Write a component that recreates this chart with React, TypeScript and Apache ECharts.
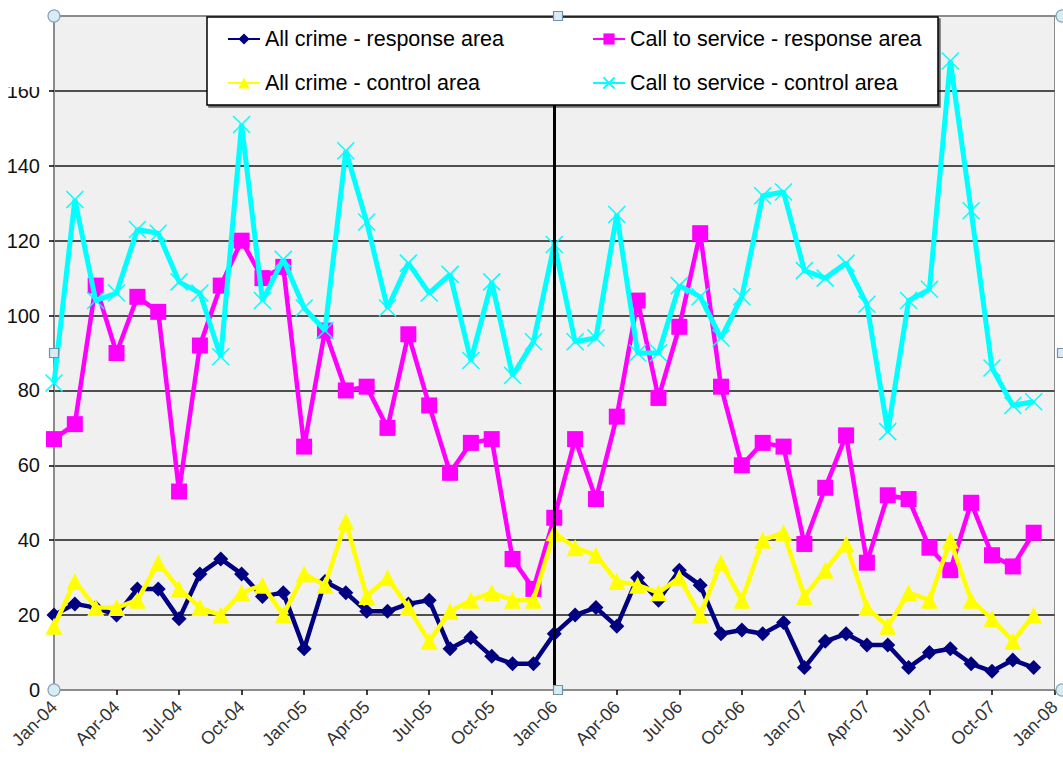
import React, { useEffect, useRef } from "react";
import * as echarts from "echarts";

const categories = [
  "Jan-04", "Feb-04", "Mar-04", "Apr-04", "May-04", "Jun-04", "Jul-04", "Aug-04", "Sep-04", "Oct-04", "Nov-04", "Dec-04",
  "Jan-05", "Feb-05", "Mar-05", "Apr-05", "May-05", "Jun-05", "Jul-05", "Aug-05", "Sep-05", "Oct-05", "Nov-05", "Dec-05",
  "Jan-06", "Feb-06", "Mar-06", "Apr-06", "May-06", "Jun-06", "Jul-06", "Aug-06", "Sep-06", "Oct-06", "Nov-06", "Dec-06",
  "Jan-07", "Feb-07", "Mar-07", "Apr-07", "May-07", "Jun-07", "Jul-07", "Aug-07", "Sep-07", "Oct-07", "Nov-07", "Dec-07",
  "Jan-08",
];

const allCrimeResponse = [
  20, 23, 22, 20, 27, 27, 19, 31, 35, 31, 25, 26,
  11, 29, 26, 21, 21, 23, 24, 11, 14, 9, 7, 7,
  15, 20, 22, 17, 30, 24, 32, 28, 15, 16, 15, 18,
  6, 13, 15, 12, 12, 6, 10, 11, 7, 5, 8, 6,
];

const callResponse = [
  67, 71, 108, 90, 105, 101, 53, 92, 108, 120, 110, 113,
  65, 96, 80, 81, 70, 95, 76, 58, 66, 67, 35, 27,
  46, 67, 51, 73, 104, 78, 97, 122, 81, 60, 66, 65,
  39, 54, 68, 34, 52, 51, 38, 32, 50, 36, 33, 42,
];

const allCrimeControl = [
  17, 29, 22, 22, 24, 34, 27, 22, 20, 26, 28, 20,
  31, 28, 45, 25, 30, 22, 13, 21, 24, 26, 24, 24,
  42, 38, 36, 29, 28, 26, 30, 20, 34, 24, 40, 42,
  25, 32, 39, 22, 17, 26, 24, 40, 24, 19, 13, 20,
];

const callControl = [
  82, 131, 104, 106, 123, 122, 109, 106, 89, 151, 104, 115,
  102, 96, 144, 125, 102, 114, 106, 111, 88, 109, 84, 93,
  119, 93, 94, 127, 90, 90, 108, 105, 94, 105, 132, 133,
  112, 110, 114, 103, 69, 104, 107, 168, 128, 86, 76, 77,
];

const seriesNames = [
  "All crime - response area",
  "Call to service - response area",
  "All crime - control area",
  "Call to service - control area",
];

const dividerMonth = "Jan-06";

const FONT = "'Liberation Sans', Arial, sans-serif";

export default function App() {
  const ref = useRef<HTMLDivElement>(null);

  useEffect(() => {
    if (!ref.current) return;
    const chart = echarts.init(ref.current, undefined, { renderer: "svg" });

    const gridLeft = 54;
    const gridTop = 16;
    const gridRight = 1062;
    const gridBottom = 690;
    const midX = 558;
    const midY = 353;

    const handleCircle = (x: number, y: number) => ({
      type: "circle",
      shape: { cx: x, cy: y, r: 6 },
      style: { fill: "#d8ecf3", stroke: "#8aa5b5", lineWidth: 1.2 },
      z: 30,
    });
    const handleSquare = (x: number, y: number) => ({
      type: "rect",
      shape: { x: x - 4.5, y: y - 4.5, width: 9, height: 9 },
      style: { fill: "#d8ecf3", stroke: "#6f93ab", lineWidth: 1.2 },
      z: 30,
    });

    const legendPos = [
      { left: 227, top: 28 },
      { left: 592, top: 28 },
      { left: 227, top: 72 },
      { left: 592, top: 72 },
    ];

    const option: any = {
      animation: false,
      backgroundColor: "#ffffff",
      grid: {
        left: gridLeft,
        top: gridTop,
        right: 1063 - gridRight,
        bottom: 764 - gridBottom,
        show: true,
        backgroundColor: "#f0f0f0",
        borderColor: "#8c8c8c",
        borderWidth: 1,
      },
      legend: seriesNames.map((n, i) => ({
        data: [n],
        left: legendPos[i].left,
        top: legendPos[i].top,
        padding: 0,
        itemWidth: 32,
        itemHeight: 14,
        itemGap: 6,
        z: 20,
        textStyle: { fontSize: 21.5, color: "#000", fontFamily: FONT },
      })),
      xAxis: {
        type: "category",
        data: categories,
        boundaryGap: false,
        axisLine: { lineStyle: { color: "#8c8c8c", width: 2 } },
        axisTick: {
          show: true,
          interval: 2,
          length: 5,
          lineStyle: { color: "#000", width: 1.5 },
        },
        axisLabel: {
          interval: 2,
          rotate: 45,
          margin: 14,
          fontSize: 18,
          color: "#333",
          fontFamily: FONT,
        },
        splitLine: { show: false },
      },
      yAxis: {
        type: "value",
        min: 0,
        max: 180,
        interval: 20,
        axisLine: { show: true, lineStyle: { color: "#8c8c8c", width: 2 } },
        axisTick: { show: true, length: 5, lineStyle: { color: "#000", width: 1.5 } },
        axisLabel: {
          showMaxLabel: false,
          margin: 14,
          fontSize: 20,
          color: "#111",
          fontFamily: FONT,
        },
        splitLine: { show: true, lineStyle: { color: "#1a1a1a", width: 1.5 } },
      },
      graphic: [
        {
          type: "line",
          shape: { x1: gridLeft, y1: gridTop, x2: gridRight, y2: gridTop },
          style: { stroke: "#8c8c8c", lineWidth: 2 },
          z: 3,
        },
        {
          type: "rect",
          shape: { x: 0, y: 0, width: 50, height: 87 },
          style: { fill: "#ffffff" },
          z: 8,
        },
        {
          type: "rect",
          shape: { x: 207, y: 17, width: 731, height: 88 },
          style: {
            fill: "#ffffff",
            stroke: "#000000",
            lineWidth: 1.5,
            shadowColor: "rgba(0,0,0,0.55)",
            shadowOffsetX: 2,
            shadowOffsetY: 2,
            shadowBlur: 0,
          },
          z: 10,
        },
        handleCircle(gridLeft, gridTop),
        handleSquare(midX, gridTop),
        handleCircle(gridRight, gridTop),
        handleSquare(gridLeft, midY),
        handleSquare(gridRight, midY),
        handleCircle(gridLeft, gridBottom),
        handleSquare(midX, gridBottom),
        handleCircle(gridRight, gridBottom),
      ],
      series: [
        {
          name: seriesNames[0],
          type: "line",
          data: allCrimeResponse,
          symbol: "diamond",
          symbolSize: 15,
          showAllSymbol: true,
          lineStyle: { color: "#000080", width: 4.5 },
          itemStyle: { color: "#000080" },
          z: 2,
        },
        {
          name: seriesNames[1],
          type: "line",
          data: callResponse,
          symbol: "rect",
          symbolSize: 16,
          showAllSymbol: true,
          lineStyle: { color: "#ff00ff", width: 4.5 },
          itemStyle: { color: "#ff00ff" },
          z: 3,
        },
        {
          name: seriesNames[2],
          type: "line",
          data: allCrimeControl,
          symbol: "triangle",
          symbolSize: 17,
          showAllSymbol: true,
          lineStyle: { color: "#ffff00", width: 4.5 },
          itemStyle: { color: "#ffff00" },
          z: 4,
        },
        {
          name: seriesNames[3],
          type: "line",
          data: callControl,
          symbol: "path://M0,0L10,10M10,0L0,10",
          symbolSize: 17,
          showAllSymbol: true,
          lineStyle: { color: "#00ffff", width: 5 },
          itemStyle: { color: "#00ffff", borderColor: "#00ffff", borderWidth: 1.5 },
          z: 5,
          markLine: {
            silent: true,
            symbol: "none",
            label: { show: false },
            lineStyle: { color: "#000", width: 3, type: "solid" },
            data: [{ xAxis: dividerMonth }],
            z: 6,
          },
        },
      ],
    };

    chart.setOption(option);
    return () => chart.dispose();
  }, []);

  return (
    <div
      ref={ref}
      style={{ position: "fixed", left: 0, top: 0, width: 1063, height: 764 }}
    />
  );
}
